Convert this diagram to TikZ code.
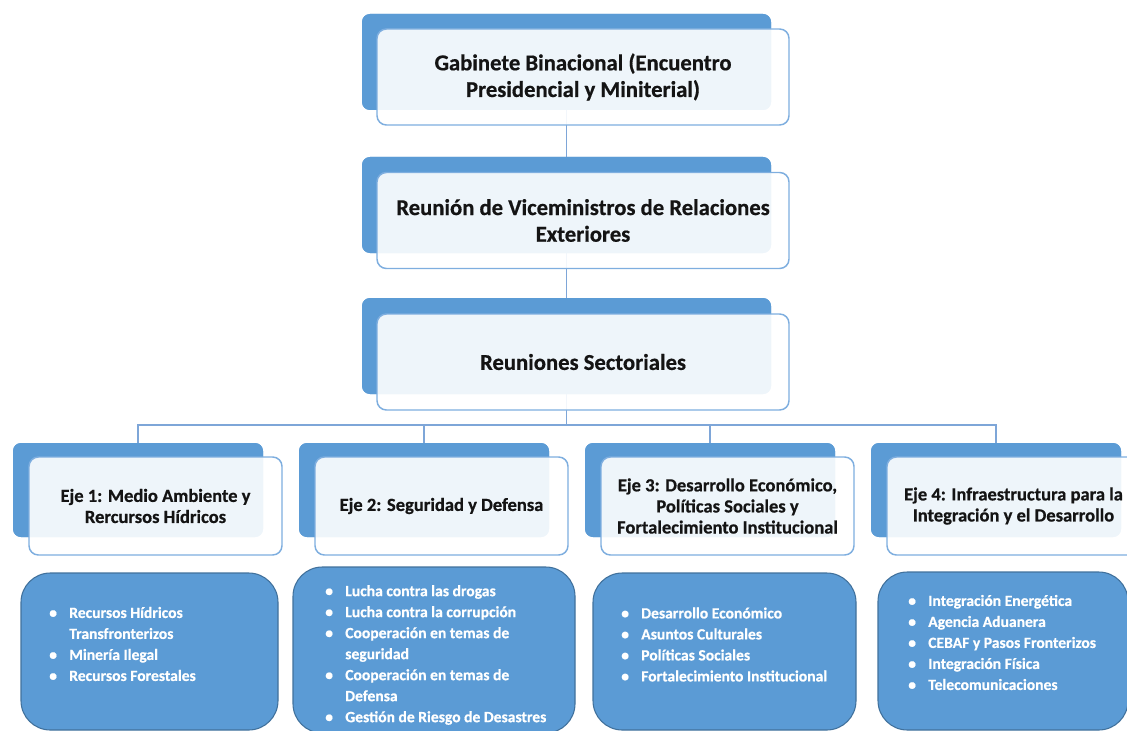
\documentclass[tikz,border=0pt]{standalone}
\usepackage{fontspec}
\setmainfont{Carlito}[BoldFeatures={FakeBold=0.6}]
\definecolor{smblue}{HTML}{5B9BD5}
\definecolor{smedge}{HTML}{7EAEDF}
\definecolor{smdark}{HTML}{41719C}
\definecolor{smline}{HTML}{7EA6D8}
\definecolor{smtext}{HTML}{141414}
\newcommand{\bul}{\makebox[15pt][l]{\textbullet}}
\newcommand{\cnt}{\hspace*{15pt}}
\begin{document}
\begin{tikzpicture}[x=0.75pt,y=-0.75pt,
  backbox/.style={fill=smblue, rounded corners=6pt, inner sep=0pt},
  bighead/.style={backbox, minimum width=306.75pt, minimum height=72pt},
  ejehead/.style={backbox, minimum width=187.5pt, minimum height=70.5pt},
  frontbox/.style={draw=smedge, line width=1.1pt, fill=white, fill opacity=0.9,
    text opacity=1, rounded corners=7pt, inner sep=0pt, align=center, text=smtext},
  bigfront/.style={frontbox, minimum width=309pt, minimum height=72pt,
    font=\fontsize{17}{20}\selectfont\bfseries},
  ejefront/.style={frontbox, minimum width=189.75pt, minimum height=73.5pt,
    font=\fontsize{13.9}{15.8}\selectfont\bfseries},
  listbox/.style={draw=smdark, line width=0.8pt, fill=smblue, rounded corners=22pt, inner sep=0pt},
  listtext/.style={anchor=west, inner sep=0pt, align=left, text=white,
    font=\fontsize{11.7}{15.75}\selectfont\bfseries},
  link/.style={draw=smline, line width=1.1pt}]
\useasboundingbox (0,0) rectangle (1127,731);
\clip (0,0) rectangle (1127,731);

% back (blue) panels of the three top levels and the four axes
\node[bighead] (b1) at (566.5,62) {};
\node[bighead] (b2) at (566.5,205) {};
\node[bighead] (b3) at (566.5,346) {};
\foreach \i in {0,...,3}
  \node[ejehead] (e\i) at (138+286*\i,490) {};

% connectors, drawn under the front panels
\coordinate (bar) at (0,425);
\draw[link] (b1.south) -- (b2.north);
\draw[link] (b2.south) -- (b3.north);
\foreach \i in {0,...,3}
  \draw[link] (b3.south) -- (b3.south |- bar) -| (e\i.north);

% redraw the back panels over the connector ends
\node[bighead] at (b1) {};
\node[bighead] at (b2) {};
\node[bighead] at (b3) {};
\foreach \i in {0,...,3}
  \node[ejehead] at (e\i) {};

% front panels with titles
\node[bigfront] (f1) at (583,77) {Gabinete Binacional (Encuentro\\Presidencial y Miniterial)};
\node[bigfront] (f2) at (583,220.5) {Reunión de Viceministros de Relaciones\\Exteriores};
\node[bigfront] (f3) at (583,362) {Reuniones Sectoriales};

\node[ejefront] (g0) at (155.5,506) {Eje 1: Medio Ambiente y\\Rercursos Hídricos};
\node[ejefront] (g1) at (441.5,506) {Eje 2: Seguridad y Defensa};
\node[ejefront] (g2) at (727.5,506) {Eje 3: Desarrollo Económico,\\Políticas Sociales y\\Fortalecimiento Institucional};
\node[ejefront] (g3) at (1013.5,506) {Eje 4: Infraestructura para la\\Integración y el Desarrollo};

% topic lists
\node[listbox, minimum width=192.75pt, minimum height=117.75pt] (l0) at (149.5,651.5) {};
\node[listbox, minimum width=211.5pt, minimum height=124.5pt] (l1) at (434,650) {};
\node[listbox, minimum width=197.25pt, minimum height=117.75pt] (l2) at (724.5,651.5) {};
\node[listbox, minimum width=187.5pt, minimum height=118.5pt] (l3) at (1003,651) {};

\node[listtext] (t0) at (49,644) {\bul Recursos Hídricos\\\cnt Transfronterizos\\\bul Minería Ilegal\\\bul Recursos Forestales};
\node[listtext] (t1) at (325,655) {\bul Lucha contra las drogas\\\bul Lucha contra la corrupción\\\bul Cooperación en temas de\\\cnt seguridad\\\bul Cooperación en temas de\\\cnt Defensa\\\bul Gestión de Riesgo de Desastres};
\node[listtext] (t2) at (621,644.5) {\bul Desarrollo Económico\\\bul Asuntos Culturales\\\bul Políticas Sociales\\\bul Fortalecimiento Institucional};
\node[listtext] (t3) at (908,642.5) {\bul Integración Energética\\\bul Agencia Aduanera\\\bul CEBAF y Pasos Fronterizos\\\bul Integración Física\\\bul Telecomunicaciones};
\end{tikzpicture}
\end{document}
